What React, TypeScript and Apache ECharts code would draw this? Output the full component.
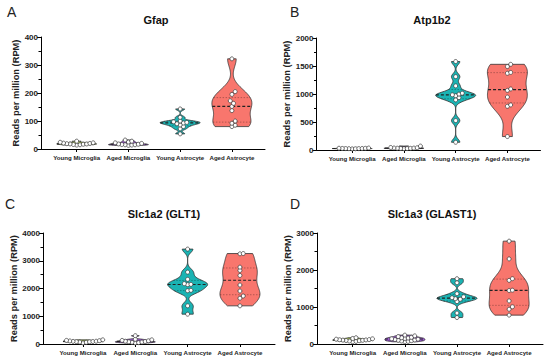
import React, { useEffect, useRef } from "react";
import * as echarts from "echarts";

const categories = ["Young Microglia", "Aged Microglia", "Young Astrocyte", "Aged Astrocyte"];
const groupColors = ["#b5cf5a", "#a15bd8", "#1bb3b3", "#f8766d"];

// Panel A: Gfap
const gfapYoungMicroglia = [28, 24, 22, 21, 20, 19, 18, 18, 17, 16, 15, 14];
const gfapAgedMicroglia = [32, 28, 25, 22, 20, 18, 17, 16, 15, 15, 14, 13];
const gfapYoungAstrocyte = [143, 113, 100, 97, 95, 93, 90, 86, 80, 72, 54];
const gfapAgedAstrocyte = [322, 205, 195, 172, 163, 152, 137, 100, 92, 85, 80];

// Panel B: Atp1b2
const atpYoungMicroglia = [35, 32, 30, 28, 27, 26, 25, 24, 22, 20];
const atpAgedMicroglia = [70, 45, 40, 36, 34, 32, 30, 28, 26, 24];
const atpYoungAstrocyte = [1580, 1310, 1145, 1015, 998, 985, 970, 935, 895, 525, 138];
const atpAgedAstrocyte = [1530, 1490, 1385, 1370, 1090, 1065, 945, 805, 780, 240];

// Panel C: Slc1a2 (GLT1)
const glt1YoungMicroglia = [150, 130, 120, 110, 100, 95, 90, 85, 80, 70, 60, 40];
const glt1AgedMicroglia = [300, 170, 150, 130, 115, 100, 90, 80, 70, 60, 50, 40];
const glt1YoungAstrocyte = [3420, 2590, 2330, 2175, 2150, 2140, 1935, 1920, 1375, 1075];
const glt1AgedAstrocyte = [3260, 3250, 2770, 2650, 2470, 2125, 1910, 1730, 1650, 1375];

// Panel D: Slc1a3 (GLAST1)
const glastYoungMicroglia = [170, 150, 140, 130, 120, 115, 110, 105, 100, 95, 90, 80, 70, 60];
const glastAgedMicroglia = [240, 220, 200, 180, 170, 160, 150, 140, 130, 120, 110, 100, 90, 80, 70, 60];
const glastYoungAstrocyte = [1765, 1655, 1360, 1275, 1250, 1225, 1210, 1145, 835, 715];
const glastAgedAstrocyte = [2780, 2300, 1765, 1720, 1455, 1445, 1165, 1005, 940, 780];

const panelLabels = ["A", "B", "C", "D"];
const panelTitles = ["Gfap", "Atp1b2", "Slc1a2 (GLT1)", "Slc1a3 (GLAST1)"];
const yMaxes = [400, 2000, 4000, 3000];
const yIntervals = [100, 500, 1000, 1000];
const panelGroups = [
  [gfapYoungMicroglia, gfapAgedMicroglia, gfapYoungAstrocyte, gfapAgedAstrocyte],
  [atpYoungMicroglia, atpAgedMicroglia, atpYoungAstrocyte, atpAgedAstrocyte],
  [glt1YoungMicroglia, glt1AgedMicroglia, glt1YoungAstrocyte, glt1AgedAstrocyte],
  [glastYoungMicroglia, glastAgedMicroglia, glastYoungAstrocyte, glastAgedAstrocyte],
];

// layout (pixels)
const layouts = [
  { left: 41, top: 37, width: 224, height: 112, xMin: 0.31, xMax: 4.64, titleX: 156, titleY: 20, labelX: 7, labelY: 12 },
  { left: 316.5, top: 38, width: 224, height: 112, xMin: 0.31, xMax: 4.64, titleX: 432, titleY: 20, labelX: 290, labelY: 12 },
  { left: 43, top: 233, width: 232, height: 111, xMin: 0.236, xMax: 4.67, titleX: 164, titleY: 214, labelX: 5, labelY: 204 },
  { left: 317, top: 233, width: 226, height: 111, xMin: 0.315, xMax: 4.65, titleX: 432, titleY: 214, labelX: 290, labelY: 204 },
];

const FONT = "'Liberation Sans', Arial, sans-serif";
const HALF_WIDTH = 20;
const POINT_R = 2;
const SWARM_STEP = 3.3;
const BW_FACTOR = 0.8;

function quantile(s: number[], p: number) {
  const idx = (s.length - 1) * p;
  const lo = Math.floor(idx);
  const hi = Math.ceil(idx);
  return s[lo] + (s[hi] - s[lo]) * (idx - lo);
}

function bandwidth(s: number[]) {
  const n = s.length;
  const mean = s.reduce((a, b) => a + b, 0) / n;
  const sd = Math.sqrt(s.reduce((a, b) => a + (b - mean) * (b - mean), 0) / (n - 1));
  const iqr = quantile(s, 0.75) - quantile(s, 0.25);
  let a = Math.min(sd, iqr / 1.34);
  if (!(a > 0)) a = sd || 1;
  return BW_FACTOR * 0.9 * a * Math.pow(n, -0.2);
}

function kde(s: number[], h: number, y: number) {
  let sum = 0;
  for (const v of s) {
    const u = (y - v) / h;
    sum += Math.exp(-0.5 * u * u);
  }
  return sum;
}

function makeRenderItem(groups: number[][]) {
  return (params: any, api: any) => {
    const gi = params.dataIndex;
    const vals = groups[gi].slice().sort((a, b) => a - b);
    const color = groupColors[gi];
    const xc = api.coord([gi + 1, 0])[0];
    const h = bandwidth(vals);
    const lo = vals[0];
    const hi = vals[vals.length - 1];
    const steps = 90;
    const ys: number[] = [];
    const ds: number[] = [];
    for (let i = 0; i <= steps; i++) {
      const y = lo + ((hi - lo) * i) / steps;
      ys.push(y);
      ds.push(kde(vals, h, y));
    }
    const dMax = Math.max(...ds);
    const halfAt = (y: number) => (kde(vals, h, y) / dMax) * HALF_WIDTH;
    const right: number[][] = [];
    const left: number[][] = [];
    for (let i = 0; i <= steps; i++) {
      const py = api.coord([gi + 1, ys[i]])[1];
      const w = (ds[i] / dMax) * HALF_WIDTH;
      right.push([xc + w, py]);
      left.unshift([xc - w, py]);
    }
    const children: any[] = [];
    children.push({
      type: "polygon",
      shape: { points: right.concat(left) },
      style: { fill: color, stroke: "#333", lineWidth: 0.8 },
    });
    const q1 = quantile(vals, 0.25);
    const q3 = quantile(vals, 0.75);
    const med = quantile(vals, 0.5);
    [q1, q3].forEach((q) => {
      const py = api.coord([gi + 1, q])[1];
      const w = halfAt(q);
      children.push({
        type: "line",
        shape: { x1: xc - w, y1: py, x2: xc + w, y2: py },
        style: { stroke: "rgba(0,0,0,0.4)", lineWidth: 0.7, lineDash: [1.5, 1.5] },
      });
    });
    {
      const py = api.coord([gi + 1, med])[1];
      const w = halfAt(med);
      children.push({
        type: "line",
        shape: { x1: xc - w, y1: py, x2: xc + w, y2: py },
        style: { stroke: "#222", lineWidth: 1.2, lineDash: [3, 2] },
      });
    }
    // beeswarm placement of points (overlap allowed up to SWARM_STEP)
    const placed: number[][] = [];
    vals.forEach((v) => {
      const py = api.coord([gi + 1, v])[1];
      let chosen = 0;
      for (let k = 0; k < 80; k++) {
        const off = k === 0 ? 0 : (k % 2 === 1 ? 1 : -1) * Math.ceil(k / 2) * SWARM_STEP * 0.5;
        const px = xc + off;
        let ok = true;
        for (const p of placed) {
          const dx = p[0] - px;
          const dy = p[1] - py;
          if (dx * dx + dy * dy < SWARM_STEP * SWARM_STEP) {
            ok = false;
            break;
          }
        }
        if (ok) {
          chosen = off;
          break;
        }
      }
      placed.push([xc + chosen, py]);
    });
    placed.forEach((p) => {
      children.push({
        type: "circle",
        shape: { cx: p[0], cy: p[1], r: POINT_R },
        style: { fill: "#ffffff", stroke: "#333", lineWidth: 0.7 },
      });
    });
    return { type: "group", children };
  };
}

export default function App() {
  const ref = useRef<HTMLDivElement>(null);
  useEffect(() => {
    if (!ref.current) return;
    const chart = echarts.init(ref.current, undefined, { renderer: "svg" });
    const grids: any[] = [];
    const xAxes: any[] = [];
    const yAxes: any[] = [];
    const series: any[] = [];
    const graphics: any[] = [];
    const axisColor = "#000";
    layouts.forEach((L, pi) => {
      grids.push({ left: L.left, top: L.top, width: L.width, height: L.height, containLabel: false });
      xAxes.push({
        type: "value",
        gridIndex: pi,
        min: L.xMin,
        max: L.xMax,
        axisLine: { show: true, onZero: false, lineStyle: { color: axisColor, width: 1 } },
        axisTick: { show: true, customValues: [1, 2, 3, 4], length: 3, lineStyle: { color: axisColor } },
        axisLabel: {
          customValues: [1, 2, 3, 4],
          formatter: (v: number) => categories[Math.round(v) - 1] || "",
          fontSize: 6.1,
          fontWeight: "bold",
          fontFamily: FONT,
          color: "#222",
          margin: 5,
        },
        splitLine: { show: false },
      });
      yAxes.push({
        type: "value",
        gridIndex: pi,
        min: 0,
        max: yMaxes[pi],
        interval: yIntervals[pi],
        axisLine: { show: true, lineStyle: { color: axisColor, width: 1 } },
        axisTick: { show: true, length: 4, lineStyle: { color: axisColor } },
        minorTick: { show: true, splitNumber: 2, length: 2.5, lineStyle: { color: axisColor } },
        axisLabel: {
          fontSize: 8,
          fontWeight: "bold",
          fontFamily: FONT,
          color: "#222",
          margin: 3,
          formatter: (v: number) => String(v),
        },
        splitLine: { show: false },
        name: "Reads per million (RPM)",
        nameLocation: "middle",
        nameGap: 21,
        nameTextStyle: { fontSize: 9.3, fontWeight: "bold", fontFamily: FONT, color: "#222" },
      });
      const groups = panelGroups[pi];
      series.push({
        type: "custom",
        xAxisIndex: pi,
        yAxisIndex: pi,
        clip: false,
        data: groups.map((g, i) => [i + 1, Math.max(...g)]),
        renderItem: makeRenderItem(groups),
      });
      graphics.push({
        type: "text",
        x: L.titleX,
        y: L.titleY,
        style: {
          text: panelTitles[pi],
          align: "center",
          verticalAlign: "middle",
          fontSize: 11,
          fontWeight: "bold",
          fontFamily: FONT,
          fill: "#111",
        },
      });
      graphics.push({
        type: "text",
        x: L.labelX,
        y: L.labelY,
        style: {
          text: panelLabels[pi],
          align: "left",
          verticalAlign: "middle",
          fontSize: 14,
          fontWeight: "normal",
          fontFamily: FONT,
          fill: "#222",
        },
      });
    });
    chart.setOption({
      animation: false,
      backgroundColor: "#ffffff",
      grid: grids,
      xAxis: xAxes,
      yAxis: yAxes,
      series,
      graphic: graphics,
    });
    return () => chart.dispose();
  }, []);
  return (
    <div
      ref={ref}
      style={{ position: "fixed", left: 0, top: 0, width: 550, height: 362, background: "#fff" }}
    />
  );
}
